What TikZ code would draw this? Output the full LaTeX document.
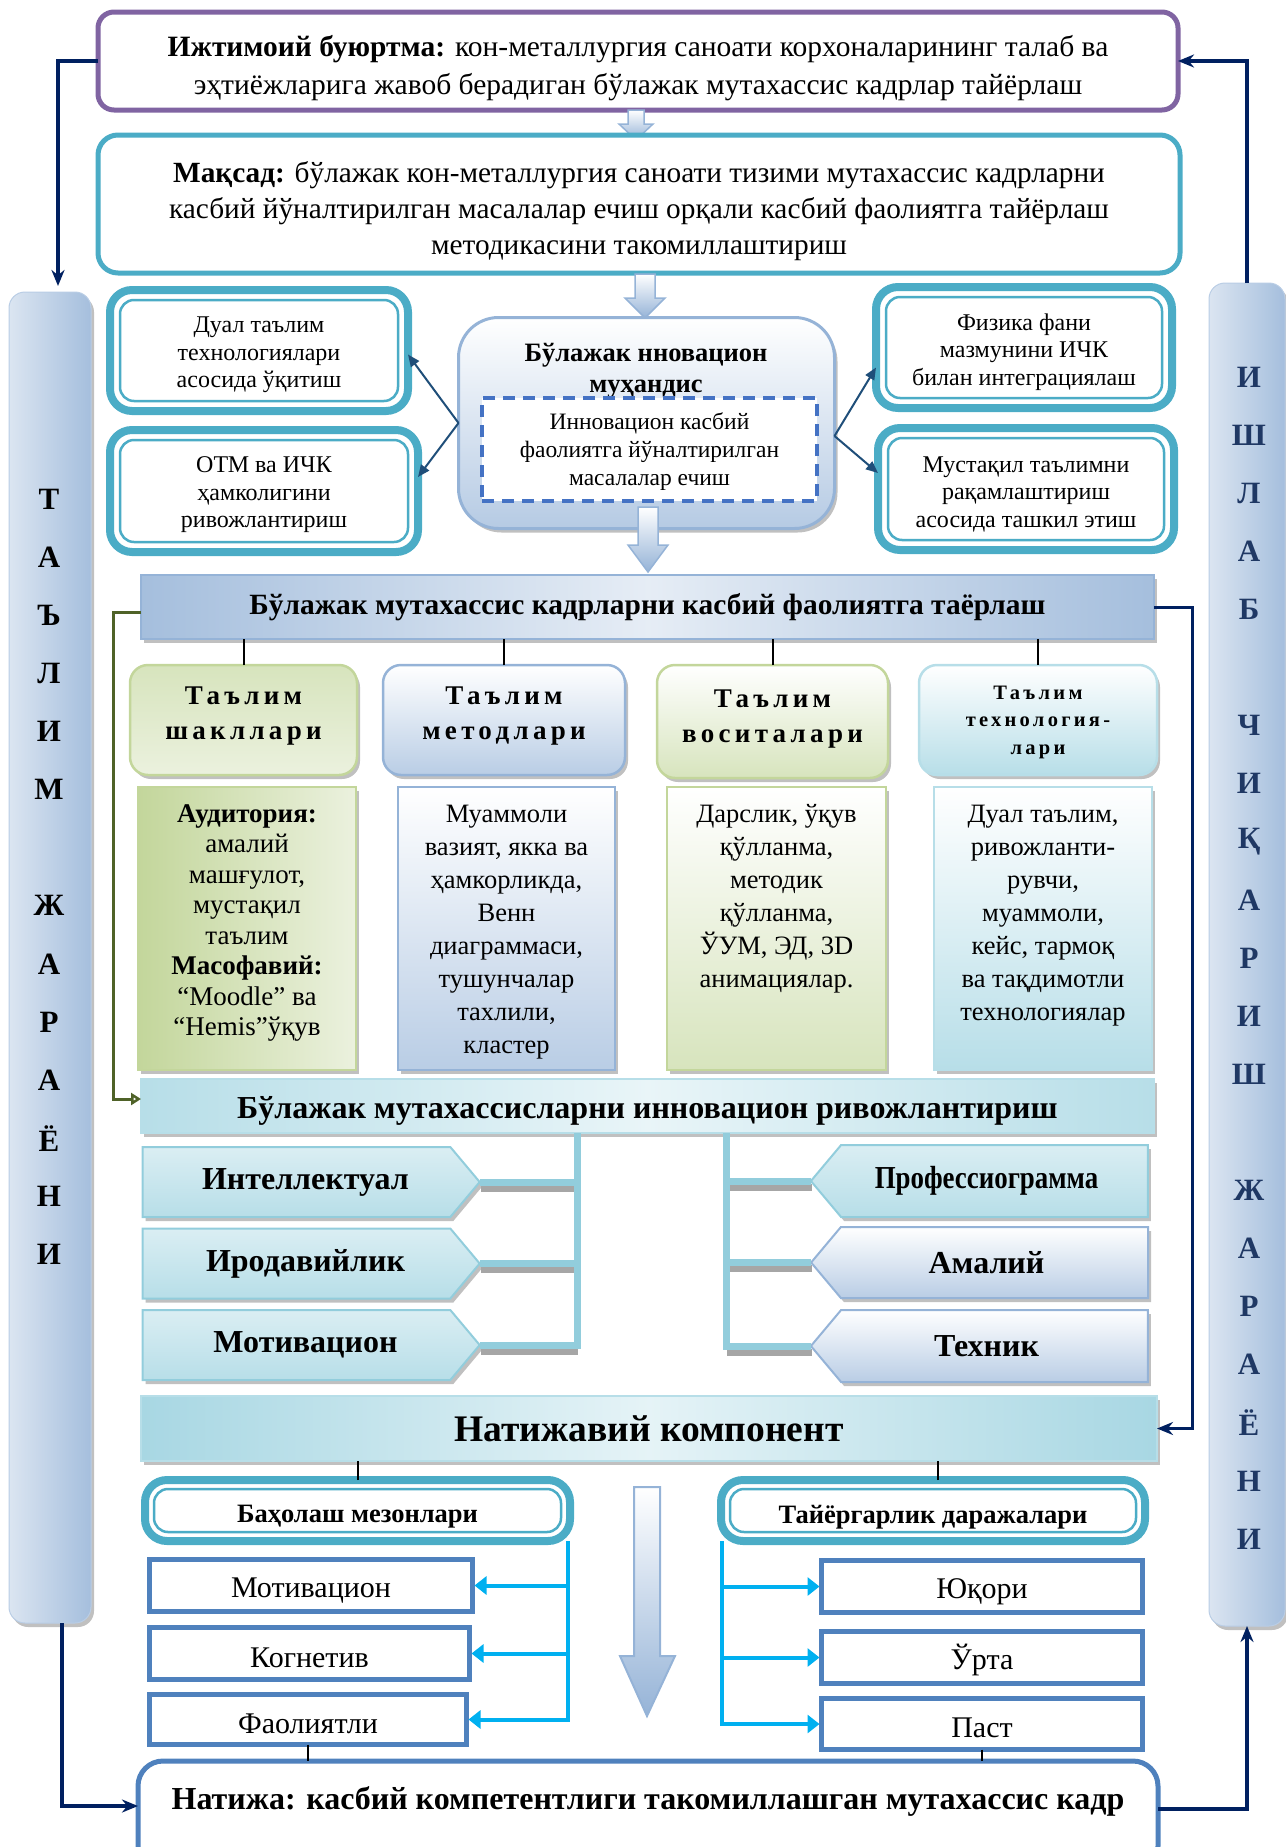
\documentclass[tikz,border=0pt]{standalone}
\usepackage{fontspec}
\setmainfont{Liberation Serif}
\newfontfamily\spacedfont[LetterSpace=16]{Liberation Serif}
\usetikzlibrary{arrows.meta,shadows,shapes.symbols,calc}
\definecolor{cpurple}{HTML}{8064A2}
\definecolor{cteal}{HTML}{4BACC6}
\definecolor{cnavy}{HTML}{002060}
\definecolor{cblue}{HTML}{4F81BD}
\definecolor{clblue}{HTML}{95B3D7}
\definecolor{cpblue}{HTML}{B9CDE5}
\definecolor{cvpblue}{HTML}{DBE5F1}
\definecolor{caqua}{HTML}{B7DEE8}
\definecolor{cpaqua}{HTML}{DAEEF3}
\definecolor{cdaqua}{HTML}{92CDDC}
\definecolor{cgreen}{HTML}{C3D69B}
\definecolor{cpgreen}{HTML}{D7E4BD}
\definecolor{cvpgreen}{HTML}{EBF1DE}
\definecolor{colive}{HTML}{4F6228}
\definecolor{ccyan}{HTML}{00B0F0}
\definecolor{cdash}{HTML}{4472C4}
\definecolor{carrow}{HTML}{1F4E79}
\definecolor{cletter}{HTML}{1F3864}
\tikzset{
 sh/.style={drop shadow={shadow xshift=3pt,shadow yshift=-4pt,fill=black!55,opacity=0.45}},
 nav/.style={draw=cnavy,line width=3.5pt,-{Stealth[length=16pt,width=13pt]}},
 carr/.style={draw=carrow,line width=2pt,-{Triangle[length=12pt,width=10pt]}},
 tick/.style={draw=black,line width=2pt},
 dbo/.style={draw=cteal,line width=8pt,rounded corners=22pt,fill=white},
 dbi/.style={draw=cteal,line width=2.5pt,rounded corners=14pt,fill=white},
 barstyle/.style={draw=cpblue,line width=1pt,rounded corners=16pt,left color=cvpblue,right color=clblue!85,sh},
 bl/.style={font=\fontsize{31}{31}\selectfont\bfseries},
 band/.style={draw=clblue,line width=1.5pt,sh},
 hdr/.style={rounded corners=18pt,line width=2.5pt,sh},
 hdrtxt/.style={align=center,font=\fontsize{27}{35}\selectfont\spacedfont\bfseries},
 cbox/.style={line width=2pt,sh},
 ctxt/.style={align=center,font=\fontsize{26.5}{33}\selectfont},
 chev/.style={signal,signal pointer angle=100,draw=cdaqua,line width=2pt,sh,inner sep=0pt,font=\fontsize{32}{32}\selectfont\bfseries},
 tbar/.style={draw=cdaqua,line width=7pt},
 tbarsh/.style={draw=black!35,line width=7pt,transform canvas={xshift=1pt,yshift=-6pt}},
 cya/.style={draw=ccyan,line width=4pt},
 cyarr/.style={cya,-{Triangle[length=12pt,width=18pt]}},
 item/.style={draw=cblue,line width=5pt,fill=white},
 itxt/.style={font=\fontsize{30}{30}\selectfont},
 barrow/.style={draw=clblue,line width=1.5pt,top color=white,bottom color=clblue},
 side/.style={align=center,font=\fontsize{24}{27.5}\selectfont},
}
\begin{document}
\begin{tikzpicture}[x=1pt,y=-1pt,every node/.style={inner sep=0pt,outer sep=0pt}]
\useasboundingbox (0,0) rectangle (1285,1847);

% side bars
\node[barstyle,minimum width=82pt,minimum height=1331pt] (lb) at (50,957.5) {};
\node[barstyle,minimum width=76pt,minimum height=1343pt] (rb) at (1247,954.5) {};
\foreach \l [count=\k from 0] in {Т,А,Ъ,Л,И,М,,Ж,А,Р,А,Ё,Н,И}
  \node[bl] (lt\k) at (49,499+58.1*\k) {\l};
\foreach \l [count=\k from 0] in {И,Ш,Л,А,Б,,Ч,И,Қ,А,Р,И,Ш,,Ж,А,Р,А,Ё,Н,И}
  \node[bl,text=cletter] (rt\k) at (1249,377+58.1*\k) {\l};

% top box
\node[draw=cpurple,line width=5pt,rounded corners=16pt,fill=white,minimum width=1080pt,minimum height=98pt] (top) at (638,61) {};
\node[align=center,font=\fontsize{29.5}{38}\selectfont] (toptx) at (638,68)
 {\textbf{Ижтимоий буюртма:} кон-металлургия саноати корхоналарининг талаб ва\\эҳтиёжларига жавоб берадиган бўлажак мутахассис кадрлар тайёрлаш};

% block arrow 1
\draw[barrow] (628,110) -- (644,110) -- (644,124) -- (653,124) -- (636,140) -- (619,124) -- (628,124) -- cycle;

% maksad
\node[draw=cteal,line width=5pt,rounded corners=20pt,fill=white,minimum width=1082pt,minimum height=138pt] (mak) at (639,204) {};
\node[align=center,font=\fontsize{29.3}{36}\selectfont] (maktx) at (639,211)
 {\textbf{Мақсад:} бўлажак кон-металлургия саноати тизими мутахассис кадрларни\\касбий йўналтирилган масалалар ечиш орқали касбий фаолиятга тайёрлаш\\методикасини такомиллаштириш};

% block arrow 2
\draw[barrow] (635,274) -- (655,274) -- (655,298) -- (665,298) -- (645,318) -- (625,298) -- (635,298) -- cycle;

% side boxes
\node[dbo,minimum width=298pt,minimum height=121pt] (l1o) at (259,350.5) {};
\node[dbi,minimum width=278pt,minimum height=101pt] (l1i) at (259,350.5) {};
\node[side] (l1) at (259,355) {Дуал таълим\\технологиялари\\асосида ўқитиш};
\node[dbo,minimum width=308pt,minimum height=122pt] (l2o) at (264,491) {};
\node[dbi,minimum width=288pt,minimum height=102pt] (l2i) at (264,491) {};
\node[side] (l2) at (264,495) {ОТМ ва ИЧК\\ҳамколигини\\ривожлантириш};
\node[dbo,minimum width=296pt,minimum height=121pt] (r1o) at (1024,347.5) {};
\node[dbi,minimum width=276pt,minimum height=101pt] (r1i) at (1024,347.5) {};
\node[side] (r1) at (1024,352) {Физика фани\\мазмунини ИЧК\\билан интеграциялаш};
\node[dbo,minimum width=296pt,minimum height=122pt] (r2o) at (1026,489) {};
\node[dbi,minimum width=276pt,minimum height=102pt] (r2i) at (1026,489) {};
\node[side] (r2) at (1026,494) {Мустақил таълимни\\рақамлаштириш\\асосида ташкил этиш};

% center box
\node[draw=clblue,line width=3pt,rounded corners=40pt,top color=white,bottom color=cpblue!90!clblue,minimum width=376pt,minimum height=211pt,sh] (cb) at (646.5,423) {};
\node[align=center,font=\fontsize{26.5}{31}\selectfont\bfseries] (cbt) at (646,371) {Бўлажак нновацион\\муҳандис};
\node[draw=cdash,line width=3.5pt,dash pattern=on 12pt off 8pt,fill=white,minimum width=335pt,minimum height=103pt] (db) at (649.5,449.5) {};
\node[side,font=\fontsize{23.5}{28}\selectfont] (dbt) at (649.5,452) {Инновацион касбий\\фаолиятга йўналтирилган\\масалалар ечиш};

\draw[carr] (cb.west) -- ([yshift=-4pt]l1o.east);
\draw[carr] (cb.west) -- ([yshift=14pt]l2o.east);
\coordinate (cbr) at ([yshift=-13pt]cb.east);
\draw[carr] (cbr) -- ([yshift=-20pt]r1o.west);
\draw[carr] (cbr) -- ([yshift=16pt]r2o.west);

% block arrow 3
\draw[barrow] (638,507) -- (658,507) -- (658,545) -- (668,545) -- (648,572) -- (628,545) -- (638,545) -- cycle;

% band 1
\node[band,left color=clblue!85,right color=clblue!85,middle color=cvpblue!70!white,minimum width=1013pt,minimum height=64pt,font=\fontsize{29.4}{29.4}\selectfont\bfseries] (b1) at (647.5,607) {Бўлажак мутахассис кадрларни касбий фаолиятга таёрлаш};

% headers
\node[hdr,draw=cgreen,top color=cpgreen,bottom color=cvpgreen,minimum width=227pt,minimum height=110pt] (h1) at (243.5,720) {};
\node[hdrtxt] (h1t) at (243.5,716) {Таълим\\шакллари};
\node[hdr,draw=clblue,top color=white,bottom color=cpblue,minimum width=242pt,minimum height=110pt] (h2) at (504,720) {};
\node[hdrtxt] (h2t) at (504,716) {Таълим\\методлари};
\node[hdr,draw=cgreen,top color=white,bottom color=cpgreen,minimum width=231pt,minimum height=113pt] (h3) at (772.5,721.5) {};
\node[hdrtxt] (h3t) at (772.5,719) {Таълим\\воситалари};
\node[hdr,draw=caqua,top color=white,bottom color=caqua,minimum width=238pt,minimum height=110pt] (h4) at (1038,720) {};
\node[hdrtxt,font=\fontsize{20.5}{27.5}\selectfont\spacedfont\bfseries] (h4t) at (1038,722) {Таълим\\технология-\\лари};
\foreach \h in {h1,h2,h3,h4} \draw[tick] (\h.north) -- (\h.north |- b1.south);

% content boxes
\node[cbox,draw=cgreen,left color=cgreen,right color=cvpgreen,minimum width=218pt,minimum height=283pt] (c1) at (247,928.5) {};
\node[ctxt,font=\fontsize{27}{30.5}\selectfont] (c1t) at (247,923) {\textbf{Аудитория:}\\амалий\\машғулот,\\мустақил\\таълим\\\textbf{Масофавий:}\\“Moodle” ва\\“Hemis”ўқув};
\node[cbox,draw=clblue,top color=white,bottom color=cpblue,minimum width=217pt,minimum height=283pt] (c2) at (506.5,928.5) {};
\node[ctxt] (c2t) at (506.5,932) {Муаммоли\\вазият, якка ва\\ҳамкорликда,\\Венн\\диаграммаси,\\тушунчалар\\тахлили,\\кластер};
\node[cbox,draw=cgreen,top color=white,bottom color=cpgreen,minimum width=219pt,minimum height=283pt] (c3) at (776.5,928.5) {};
\node[ctxt] (c3t) at (776.5,899) {Дарслик, ўқув\\қўлланма,\\методик\\қўлланма,\\ЎУМ, ЭД, 3D\\анимациялар.};
\node[cbox,draw=caqua,top color=white,bottom color=caqua,minimum width=218pt,minimum height=283pt] (c4) at (1043,928.5) {};
\node[ctxt] (c4t) at (1043,915.5) {Дуал таълим,\\ривожланти-\\рувчи,\\муаммоли,\\кейс, тармоқ\\ва тақдимотли\\технологиялар};

% band 2
\node[band,draw=caqua,left color=caqua,right color=caqua,middle color=cpaqua!60!white,minimum width=1013pt,minimum height=54pt] (b2) at (647.5,1106) {};
\node[font=\fontsize{32}{32}\selectfont\bfseries] (b2t) at (647.5,1111) {Бўлажак мутахассисларни инновацион ривожлантириш};

\draw[draw=colive,line width=3pt,-{Triangle[open,length=10pt,width=12pt]}] ([yshift=-5pt]b1.west) -- ++(-28,0) |- ([yshift=7pt]b2.west);

% chevrons
\node[chev,signal to=east,top color=cpaqua,bottom color=caqua,minimum width=337pt,minimum height=70pt] (ch1) at (296.5,1182) {\hspace*{18pt}Интеллектуал};
\node[chev,signal to=east,top color=cpaqua,bottom color=caqua,minimum width=337pt,minimum height=70pt] (ch2) at (296.5,1263.5) {\hspace*{18pt}Иродавийлик};
\node[chev,signal to=east,top color=cpaqua,bottom color=caqua,minimum width=337pt,minimum height=70pt] (ch3) at (296.5,1345) {\hspace*{18pt}Мотивацион};
\node[chev,signal to=west,top color=cpaqua,bottom color=caqua,minimum width=337pt,minimum height=72pt] (ch4) at (994.5,1181) {\scalebox{0.84}[1]{Профессиограмма}\hspace*{16pt}};
\node[chev,signal to=west,draw=clblue,top color=white,bottom color=cpblue,minimum width=337pt,minimum height=71pt] (ch5) at (994.5,1262.5) {Амалий\hspace*{16pt}};
\node[chev,signal to=west,draw=clblue,top color=white,bottom color=cpblue,minimum width=337pt,minimum height=72pt] (ch6) at (994.5,1346) {Техник\hspace*{16pt}};

\coordinate (vl) at (577,1133);
\coordinate (vr) at (726,1133);
\foreach \c in {ch1,ch2,ch3} \draw[tbarsh] (\c.east) -- (\c.east -| vl);
\foreach \c in {ch4,ch5,ch6} \draw[tbarsh] (\c.west) -- (\c.west -| vr);
\draw[tbar] (b2.south -| vl) -- ([yshift=-3.5pt]ch3.east -| vl);
\draw[tbar] (b2.south -| vr) -- ([yshift=-3.5pt]ch6.west -| vr);
\foreach \c in {ch1,ch2,ch3} \draw[tbar] (\c.east) -- (\c.east -| vl);
\foreach \c in {ch4,ch5,ch6} \draw[tbar] (\c.west) -- (\c.west -| vr);

% band 3
\node[band,draw=caqua,left color=cdaqua!80,right color=cdaqua!80,middle color=cpaqua!70!white,minimum width=1016pt,minimum height=65pt,font=\fontsize{37.5}{37.5}\selectfont\bfseries] (b3) at (649,1428.5) {Натижавий компонент};
\draw[nav,line width=3pt] (b1.east) -- ++(38,0) |- (b3.east);

% bottom headers
\node[dbo,minimum width=425pt,minimum height=61pt] (bh1o) at (357.5,1510.5) {};
\node[dbi,minimum width=407pt,minimum height=43pt] (bh1i) at (357.5,1510.5) {};
\node[font=\fontsize{26.5}{26.5}\selectfont\bfseries] (bh1) at (357.5,1517) {Баҳолаш мезонлари};
\node[dbo,minimum width=424pt,minimum height=61pt] (bh2o) at (933,1510.5) {};
\node[dbi,minimum width=406pt,minimum height=43pt] (bh2i) at (933,1510.5) {};
\node[font=\fontsize{26.5}{26.5}\selectfont\bfseries] (bh2) at (933,1517) {Тайёргарлик даражалари};
\draw[tick] (bh1o.north) -- (bh1o.north |- b3.south);
\draw[tick] ([xshift=5pt]bh2o.north) -- ([xshift=5pt]bh2o.north |- b3.south);

% items
\node[item,minimum width=323pt,minimum height=52pt] (i1) at (311,1585.5) {};
\node[itxt] (i1t) at (311,1591) {Мотивацион};
\node[item,minimum width=320pt,minimum height=52pt] (i2) at (309.5,1653.5) {};
\node[itxt] (i2t) at (309.5,1658) {Когнетив};
\node[item,minimum width=317pt,minimum height=50pt] (i3) at (308,1719.5) {};
\node[itxt] (i3t) at (308,1724) {Фаолиятли};
\node[item,minimum width=321pt,minimum height=52pt] (o1) at (982,1586.5) {};
\node[itxt] (o1t) at (982,1592) {Юқори};
\node[item,minimum width=321pt,minimum height=52pt] (o2) at (982,1657.5) {};
\node[itxt] (o2t) at (982,1660) {Ўрта};
\node[item,minimum width=321pt,minimum height=51pt] (o3) at (982,1724) {};
\node[itxt] (o3t) at (982,1728) {Паст};

\coordinate (cl) at (568,1545);
\coordinate (cr) at (722,1545);
\draw[cya] (bh1o.south -| cl) -- ([yshift=-2pt]i3.east -| cl);
\draw[cya] (bh2o.south -| cr) -- ([yshift=-2pt]o3.west -| cr);
\foreach \n in {i1,i2,i3} \draw[cyarr] (\n.east -| cl) -- ([xshift=2pt]\n.east);
\foreach \n in {o1,o2,o3} \draw[cyarr] (\n.west -| cr) -- ([xshift=-2pt]\n.west);

% big arrow
\draw[barrow,line width=2pt] (634,1487) -- (660,1487) -- (660,1656) -- (675,1656) -- (647,1716) -- (620,1656) -- (634,1656) -- cycle;

% natija
\node[draw=cblue,line width=5pt,rounded corners=25pt,fill=white,minimum width=1020pt,minimum height=110pt] (nat) at (648,1816) {};
\node[font=\fontsize{32}{32}\selectfont\bfseries] (natt) at (648,1801) {Натижа: касбий компетентлиги такомиллашган мутахассис кадр};
\draw[tick] (i3.south) -- (i3.south |- nat.north);
\draw[tick] (o3.south) -- (o3.south |- nat.north);

% navy loop arrows
\draw[nav] (top.west) -| ([xshift=8pt,yshift=6pt]lb.north);
\draw[nav] (rb.north) |- (top.east);
\draw[nav] ([xshift=12pt]lb.south) |- ([yshift=10pt]nat.west);
\draw[nav] ([yshift=7pt]nat.east) -| (rb.south);
\end{tikzpicture}
\end{document}
